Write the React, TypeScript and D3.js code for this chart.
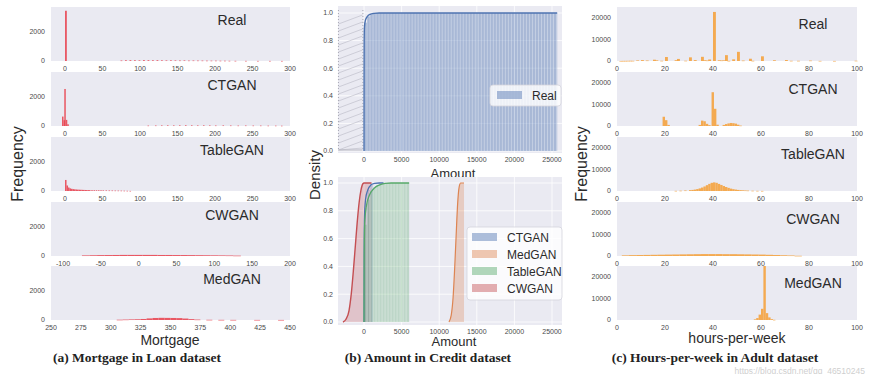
import React from "react";
import * as d3 from "d3";

const BG = "#eaeaf2";
const FONT = "'Liberation Sans', Arial, sans-serif";
const TICK = "#4a4a4a";

// ---------- (a) Mortgage in Loan dataset : [bin start, count] ----------
const mortgageReal = [
  [0, 3460], [74, 35], [80, 50], [86, 55], [92, 50], [98, 45], [104, 60], [110, 55], [116, 50],
  [122, 55], [128, 45], [134, 40], [140, 45], [146, 40], [152, 35], [158, 40], [164, 30],
  [170, 35], [176, 30], [182, 30], [188, 25], [194, 25], [200, 25], [206, 20], [212, 20],
  [218, 15], [226, 12], [240, 10], [256, 8], [272, 8], [288, 6],
];
const mortgageCTGAN = [
  [-4, 650], [-2, 400], [-1, 2550], [1, 420], [3, 120],
  [110, 30], [120, 35], [128, 40], [136, 45], [144, 40], [152, 45], [160, 50], [168, 45],
  [176, 40], [184, 45], [192, 40], [200, 35], [210, 40], [220, 35], [230, 30], [240, 35],
  [250, 30], [260, 30], [270, 25], [280, 25], [288, 20],
];
const mortgageTableGAN = [
  [0, 760], [2, 380], [4, 240], [6, 180], [8, 150], [10, 130], [12, 115], [14, 105],
  [16, 95], [18, 90], [20, 85], [22, 80], [24, 75], [26, 70], [28, 65], [30, 62], [32, 60],
  [35, 56], [38, 52], [41, 50], [44, 48], [47, 45], [50, 42], [54, 40], [58, 36], [62, 34],
  [66, 30], [70, 28], [74, 25], [78, 20], [82, 14], [86, 8],
];
const mortgageCWGAN = [
  [-75, 40], [-65, 50], [-55, 60], [-45, 65], [-35, 70], [-25, 75], [-15, 75], [-5, 75],
  [5, 75], [15, 75], [25, 70], [35, 70], [45, 65], [55, 65], [65, 60], [75, 55], [85, 50],
  [95, 45], [105, 40], [115, 35], [125, 25],
];
const mortgageMedGAN = [
  [305, 20], [310, 30], [315, 40], [320, 50], [325, 70], [330, 110], [335, 140], [340, 150],
  [345, 145], [350, 140], [355, 130], [360, 100], [365, 60], [370, 30], [380, 15], [390, 10],
  [400, 8], [420, 6], [440, 5],
];

const mortgageTicks = [0, 50, 100, 150, 200, 250, 300];
const mortgageTicksCW = [-100, -50, 0, 50, 100, 150, 200];
const mortgageTicksMed = [250, 275, 300, 325, 350, 375, 400, 425, 450];
const mortgageFreqTicks = [0, 2000];

// ---------- (c) Hours-per-week in Adult dataset : [bin start, count] ----------
const hoursReal = [
  [1, 30], [2, 50], [3, 60], [4, 80], [5, 100], [6, 90], [8, 280], [10, 420], [12, 240],
  [15, 600], [16, 300], [18, 110], [20, 1850], [24, 370], [25, 960], [28, 130], [30, 1700],
  [32, 430], [35, 1940], [36, 350], [37, 220], [38, 700], [40, 22800], [42, 340], [43, 230],
  [44, 300], [45, 2720], [46, 80], [48, 770], [50, 4250], [52, 210], [55, 1050], [56, 100],
  [60, 2180], [65, 350], [70, 450], [72, 100], [75, 100], [80, 200], [84, 60], [90, 40], [99, 130],
];
const hoursCTGAN = [
  [19, 4300], [20, 2700], [21, 500], [34, 500], [35, 2500], [36, 2200], [37, 1000], [38, 400],
  [39.4, 15700], [40.4, 8000], [41.4, 600], [44, 500], [45, 900], [46, 1200], [47, 1400],
  [48, 1300], [49, 1100], [50, 600], [51, 200],
];
const hoursTableGAN = [
  [24, 80], [26, 150], [28, 250], [30, 400], [31, 500], [32, 650], [33, 900], [34, 1200],
  [35, 1600], [36, 2100], [37, 2700], [38, 3300], [39, 3800], [40, 4000], [41, 3800],
  [42, 3300], [43, 2800], [44, 2300], [45, 1850], [46, 1450], [47, 1100], [48, 850],
  [49, 650], [50, 500], [51, 400], [52, 320], [53, 250], [54, 200], [56, 130], [58, 80], [60, 40],
];
const hoursCWGAN = [
  [2, 300], [5, 400], [8, 450], [11, 500], [14, 550], [17, 600], [20, 650], [23, 700],
  [26, 750], [29, 800], [32, 850], [35, 900], [38, 900], [41, 900], [44, 850], [47, 850],
  [50, 800], [53, 750], [56, 700], [59, 650], [62, 550], [65, 450], [68, 350], [71, 250], [74, 100],
];
const hoursMedGAN = [
  [57, 300], [58, 900], [59, 2500], [60, 5200], [61, 26000], [62, 3200], [63, 1200], [64, 400], [65, 100],
];
const hoursTicks = [0, 20, 40, 60, 80, 100];
const hoursFreqTicks = [0, 10000, 20000];

// ---------- (b) Amount in Credit dataset ----------
// cumulative histogram bars: [from, to, value]
const realBars = [[0, 400, 0.93], [400, 800, 0.975], [800, 1200, 0.99], [1200, 1600, 0.996], [1600, 25691, 1]];
const realCdf = [
  [0, 0], [8, 0.55], [20, 0.8], [60, 0.9], [200, 0.95], [450, 0.975], [800, 0.99], [1300, 0.997],
  [2000, 1], [25691, 1],
];
const ctganBars = [[0, 400, 0.82], [400, 800, 0.95], [800, 1200, 0.99]];
const tableBars = [
  [0, 400, 0.7], [400, 800, 0.88], [800, 1200, 0.94], [1200, 1600, 0.97], [1600, 2000, 0.985],
  [2000, 2400, 0.995], [2400, 6000, 1],
];
const ctganCdf = [
  [0, 0], [15, 0.5], [60, 0.75], [200, 0.88], [500, 0.95], [900, 0.985], [1400, 0.997], [2000, 1], [2600, 1],
];
const tableCdf = [
  [0, 0], [20, 0.45], [80, 0.7], [300, 0.83], [700, 0.91], [1300, 0.96], [2000, 0.985],
  [2800, 0.997], [3600, 1], [6000, 1],
];
const cwganCdf = [
  [-2800, 0], [-2400, 0.02], [-2000, 0.08], [-1700, 0.2], [-1400, 0.38], [-1150, 0.55],
  [-900, 0.72], [-650, 0.86], [-400, 0.95], [-150, 0.995], [0, 1], [1000, 1],
];
const medganCdf = [
  [11300, 0], [11600, 0.05], [11850, 0.18], [12050, 0.38], [12250, 0.62], [12450, 0.85],
  [12650, 0.97], [12850, 1], [13300, 1],
];
const densityTicks = [0, 0.2, 0.4, 0.6, 0.8, 1.0];
const amountTicks = [0, 5000, 10000, 15000, 20000, 25000];
const binWidth = 400;

const legendItems = [
  { name: "CTGAN", color: "#4c72b0" },
  { name: "MedGAN", color: "#dd8452" },
  { name: "TableGAN", color: "#55a868" },
  { name: "CWGAN", color: "#c44e52" },
];

const rowTops = [7, 72, 137, 202, 266];
const rowH = 54;

function HistBox({ bars, binW, domain, xTicks, yTicks, yMax, left, right, top, color, title, titleX, titleDy }) {
  const x = d3.scaleLinear().domain(domain).range([left, right]);
  const y = d3.scaleLinear().domain([0, yMax]).range([top + rowH, top]);
  const bottom = top + rowH;
  return (
    <g>
      <rect x={left} y={top} width={right - left} height={rowH} fill={BG} />
      {bars.map(([v, c], i) => {
        const x0 = x(v);
        const x1 = x(v + binW);
        const yy = y(Math.min(c, yMax));
        return (
          <rect key={i} x={x0} y={yy} width={Math.max(x1 - x0, 0.9)} height={Math.max(bottom - yy, 0.6)}
            fill={color} opacity={0.88} />
        );
      })}
      {xTicks.map((t) => (
        <text key={t} x={x(t)} y={bottom + 8} dy="0.35em" textAnchor="middle" fontSize={7} fill={TICK}>{t}</text>
      ))}
      {yTicks.map((t) => (
        <text key={t} x={left - 6} y={y(t)} dy="0.35em" textAnchor="end" fontSize={7} fill={TICK}>{t}</text>
      ))}
      <text x={titleX} y={top + titleDy} textAnchor="middle" fontSize={14} fill="#2b2b2b">{title}</text>
    </g>
  );
}

function CdfBox({ top, bottom, y0, y1, children, xTickY }) {
  const x = d3.scaleLinear().domain([-3460, 26330]).range([338, 562]);
  const y = d3.scaleLinear().domain([0, 1]).range([y0, y1]);
  return (
    <g>
      <rect x={338} y={top} width={224} height={bottom - top} fill={BG} />
      {densityTicks.map((t) => (
        <line key={"gy" + t} x1={338} x2={562} y1={y(t)} y2={y(t)} stroke="#fff" strokeWidth={0.8} />
      ))}
      {amountTicks.map((t) => (
        <line key={"gx" + t} x1={x(t)} x2={x(t)} y1={top} y2={bottom} stroke="#fff" strokeWidth={0.8} />
      ))}
      {children(x, y)}
      {densityTicks.map((t) => (
        <text key={"ty" + t} x={333} y={y(t)} dy="0.35em" textAnchor="end" fontSize={7} fill={TICK}>{t.toFixed(1)}</text>
      ))}
      {amountTicks.map((t) => (
        <text key={"tx" + t} x={x(t)} y={xTickY} dy="0.35em" textAnchor="middle" fontSize={7} fill={TICK}>{t}</text>
      ))}
    </g>
  );
}

function stripedBars(bars, x, y, color, opacity, key) {
  return (
    <g key={key}>
      {bars.map(([a, b, v], i) => (
        <rect key={i} x={x(a)} y={y(v)} width={x(b) - x(a)} height={y(0) - y(v)} fill={color} opacity={opacity} />
      ))}
      {bars.map(([a, b, v], i) =>
        d3.range(a, b, binWidth).map((e) => (
          <line key={i + "-" + e} x1={x(e)} x2={x(e)} y1={y(0)} y2={y(v)} stroke="#fff" strokeOpacity={0.55} strokeWidth={0.6} />
        ))
      )}
    </g>
  );
}

function cdfPath(data, x, y) {
  return d3.line().x((d) => x(d[0])).y((d) => y(d[1])).curve(d3.curveMonotoneX)(data);
}
function cdfArea(data, x, y) {
  return d3.area().x((d) => x(d[0])).y0(y(0)).y1((d) => y(d[1])).curve(d3.curveMonotoneX)(data);
}

export default function App() {
  const leftCol = { left: 51, right: 290 };
  const rightCol = { left: 617, right: 857 };
  const mortgageRows = [
    { title: "Real", bars: mortgageReal, binW: 2.4, domain: [-18.7, 300], ticks: mortgageTicks },
    { title: "CTGAN", bars: mortgageCTGAN, binW: 2, domain: [-18.7, 300], ticks: mortgageTicks },
    { title: "TableGAN", bars: mortgageTableGAN, binW: 2, domain: [-18.7, 300], ticks: mortgageTicks },
    { title: "CWGAN", bars: mortgageCWGAN, binW: 10, domain: [-115.9, 200], ticks: mortgageTicksCW },
    { title: "MedGAN", bars: mortgageMedGAN, binW: 5, domain: [250, 450], ticks: mortgageTicksMed },
  ];
  const hoursRows = [
    { title: "Real", bars: hoursReal, binW: 1.2 },
    { title: "CTGAN", bars: hoursCTGAN, binW: 1 },
    { title: "TableGAN", bars: hoursTableGAN, binW: 1 },
    { title: "CWGAN", bars: hoursCWGAN, binW: 3 },
    { title: "MedGAN", bars: hoursMedGAN, binW: 1 },
  ];

  return (
    <svg width={875} height={374} fontFamily={FONT}
      style={{ position: "absolute", left: 0, top: 0, background: "#fff" }}>
      {/* (a) Mortgage */}
      {mortgageRows.map((r, i) => (
        <HistBox key={"m" + i} bars={r.bars} binW={r.binW} domain={r.domain} xTicks={r.ticks}
          yTicks={mortgageFreqTicks} yMax={3720} left={leftCol.left} right={leftCol.right}
          top={rowTops[i]} color="#e8424e" title={r.title} titleX={232} titleDy={18} />
      ))}
      <text transform="translate(23,164) rotate(-90)" textAnchor="middle" fontSize={16} fill="#2b2b2b">Frequency</text>
      <text x={170} y={345} textAnchor="middle" fontSize={14} fill="#2b2b2b">Mortgage</text>

      {/* (c) Hours-per-week */}
      {hoursRows.map((r, i) => (
        <HistBox key={"h" + i} bars={r.bars} binW={r.binW} domain={[0, 100]} xTicks={hoursTicks}
          yTicks={hoursFreqTicks} yMax={25100} left={rightCol.left} right={rightCol.right}
          top={rowTops[i]} color="#f5a13a" title={r.title} titleX={813} titleDy={22} />
      ))}
      <text transform="translate(587,164) rotate(-90)" textAnchor="middle" fontSize={16} fill="#2b2b2b">Frequency</text>
      <text x={737} y={343} textAnchor="middle" fontSize={14} fill="#2b2b2b">hours-per-week</text>

      {/* (b) Amount, Real */}
      <CdfBox top={6} bottom={153} y0={151} y1={13} xTickY={160}>
        {(x, y) => (
          <g>
            {d3.range(0, 150, 7).map((k) => (
              <line key={"h" + k} x1={x(-3400)} x2={x(-200)} y1={Math.min(15 + k + 9, 150)} y2={Math.min(15 + k, 150)}
                stroke="#b8b8c4" strokeWidth={0.6} />
            ))}
            <line x1={x(-3400)} x2={x(-3400)} y1={10} y2={151} stroke="#a8a8b4" strokeDasharray="1,2" />
            <line x1={x(-150)} x2={x(-150)} y1={10} y2={151} stroke="#a8a8b4" strokeDasharray="1,2" />
            {stripedBars(realBars, x, y, "#4c72b0", 0.42, "real")}
            <path d={cdfPath(realCdf, x, y)} fill="none" stroke="#4c72b0" strokeWidth={1.4} />
          </g>
        )}
      </CdfBox>
      <text x={453} y={178} textAnchor="middle" fontSize={13} fill="#2b2b2b">Amount</text>
      <g>
        <rect x={490} y={85} width={71} height={21} rx={3} fill="#fff" fillOpacity={0.8} stroke="#d4d4dc" strokeWidth={0.8} />
        <rect x={497} y={91} width={25} height={8} fill="#4c72b0" opacity={0.45} />
        <text x={532} y={99.5} fontSize={12} fill="#2b2b2b">Real</text>
      </g>

      {/* (b) Amount, synthetic */}
      <CdfBox top={177} bottom={325} y0={322} y1={183} xTickY={332}>
        {(x, y) => (
          <g>
            <path d={cdfArea(cwganCdf, x, y)} fill="#c44e52" opacity={0.25} />
            <path d={cdfArea(medganCdf, x, y)} fill="#dd8452" opacity={0.3} />
            {stripedBars(ctganBars, x, y, "#4c72b0", 0.25, "ct")}
            {stripedBars(tableBars, x, y, "#55a868", 0.3, "tb")}
            <path d={cdfPath(cwganCdf, x, y)} fill="none" stroke="#c44e52" strokeWidth={1.4} />
            <path d={cdfPath(medganCdf, x, y)} fill="none" stroke="#dd8452" strokeWidth={1.2} />
            <path d={cdfPath(ctganCdf, x, y)} fill="none" stroke="#4c72b0" strokeWidth={1.3} />
            <path d={cdfPath(tableCdf, x, y)} fill="none" stroke="#55a868" strokeWidth={1.3} />
          </g>
        )}
      </CdfBox>
      <text x={454} y={346} textAnchor="middle" fontSize={13} fill="#2b2b2b">Amount</text>
      <text transform="translate(320,175) rotate(-90)" textAnchor="middle" fontSize={15} fill="#2b2b2b">Density</text>
      <g>
        <rect x={467} y={227} width={95} height={73} rx={3} fill="#fff" fillOpacity={0.8} stroke="#d4d4dc" strokeWidth={0.8} />
        {legendItems.map((d, i) => (
          <g key={d.name}>
            <rect x={472} y={233 + i * 17} width={25} height={8} fill={d.color} opacity={0.45} />
            <text x={507} y={242 + i * 17} fontSize={12} fill="#2b2b2b">{d.name}</text>
          </g>
        ))}
      </g>

      {/* captions */}
      <g fontFamily="'Liberation Serif', 'DejaVu Serif', serif" fontWeight="bold" fontSize={13.5} fill="#222">
        <text x={137} y={362} textAnchor="middle">(a) Mortgage in Loan dataset</text>
        <text x={428} y={362} textAnchor="middle">(b) Amount in Credit dataset</text>
        <text x={715} y={362} textAnchor="middle">(c) Hours-per-week in Adult dataset</text>
      </g>
      <text x={865} y={373.5} textAnchor="end" fontSize={8.5} fill="#cfcfcf">https://blog.csdn.net/qq_46510245</text>
    </svg>
  );
}
